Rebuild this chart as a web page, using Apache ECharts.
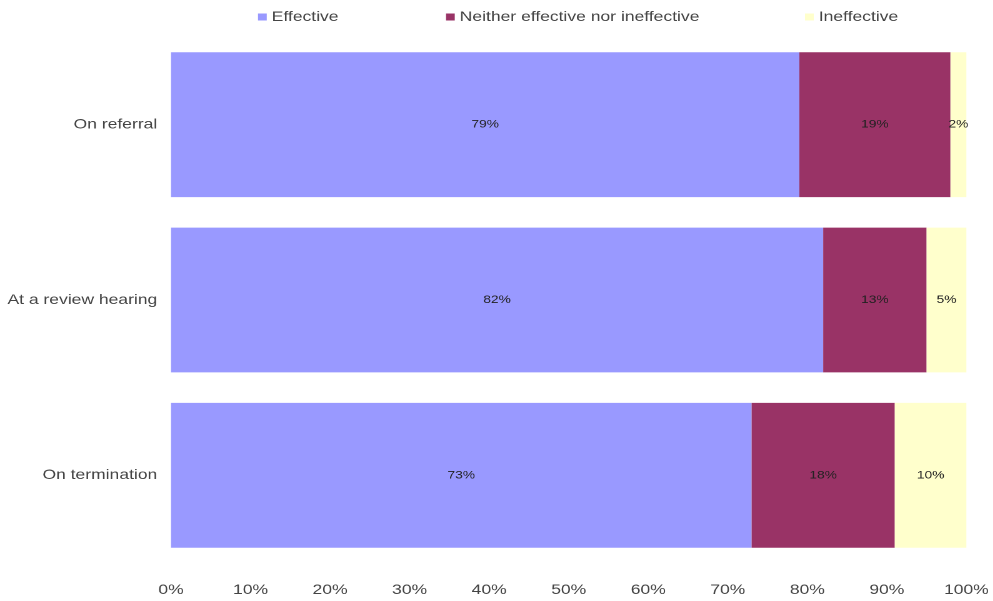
<!DOCTYPE html>
<html>
<head>
<meta charset="utf-8">
<style>
  html, body { margin: 0; padding: 0; background: #fff; overflow: hidden; }
  /* The chart is laid out at 794px and widened to 993px, giving the wide lettering */
  #chart { width: 794.4px; height: 601px; transform: scaleX(1.25); transform-origin: 0 0; }
</style>
<script src="https://cdn.jsdelivr.net/npm/echarts@6/dist/echarts.min.js"></script>
</head>
<body>
<div id="chart"></div>
<script>
// Stages at which effectiveness was rated
const categories = ['On referral', 'At a review hearing', 'On termination'];
// Share of responses (%) per rating
const effective = [79, 82, 73];
const neither = [19, 13, 18];
const ineffective = [2, 5, 10];
const seriesNames = ['Effective', 'Neither effective nor ineffective', 'Ineffective'];
const colors = ['#9999FF', '#993366', '#FFFFCC'];

const font = 'Liberation Sans, Arial, sans-serif';
const chart = echarts.init(document.getElementById('chart'), null, { devicePixelRatio: 2 });

function makeSeries(name, data, color) {
  return {
    name: name,
    type: 'bar',
    stack: 'total',
    data: data,
    barWidth: '82.6%',
    itemStyle: { color: color },
    label: {
      show: true,
      position: 'inside',
      formatter: p => p.value + '%',
      fontFamily: font,
      fontSize: 11,
      color: '#222'
    }
  };
}

const legendLefts = [206.4, 356.8, 644];
chart.setOption({
  animation: false,
  legend: seriesNames.map((n, i) => ({
    data: [n],
    left: legendLefts[i],
    top: 10,
    padding: 0,
    icon: 'rect',
    itemWidth: 7,
    itemHeight: 7,
    textStyle: { fontFamily: font, fontSize: 14, color: '#444', padding: [0, 0, 0, -1] }
  })),
  grid: { left: 136.8, right: 20, top: 37, bottom: 38, containLabel: false },
  xAxis: {
    type: 'value',
    min: 0,
    max: 100,
    interval: 10,
    axisLine: { show: false },
    axisTick: { show: false },
    splitLine: { show: false },
    axisLabel: {
      formatter: '{value}%',
      fontFamily: font,
      fontSize: 14,
      color: '#444',
      margin: 20
    }
  },
  yAxis: {
    type: 'category',
    data: categories,
    inverse: true,
    axisLine: { show: false },
    axisTick: { show: false },
    axisLabel: { fontFamily: font, fontSize: 14, color: '#444', margin: 11 }
  },
  series: [
    makeSeries(seriesNames[0], effective, colors[0]),
    makeSeries(seriesNames[1], neither, colors[1]),
    makeSeries(seriesNames[2], ineffective, colors[2])
  ]
});
</script>
</body>
</html>
